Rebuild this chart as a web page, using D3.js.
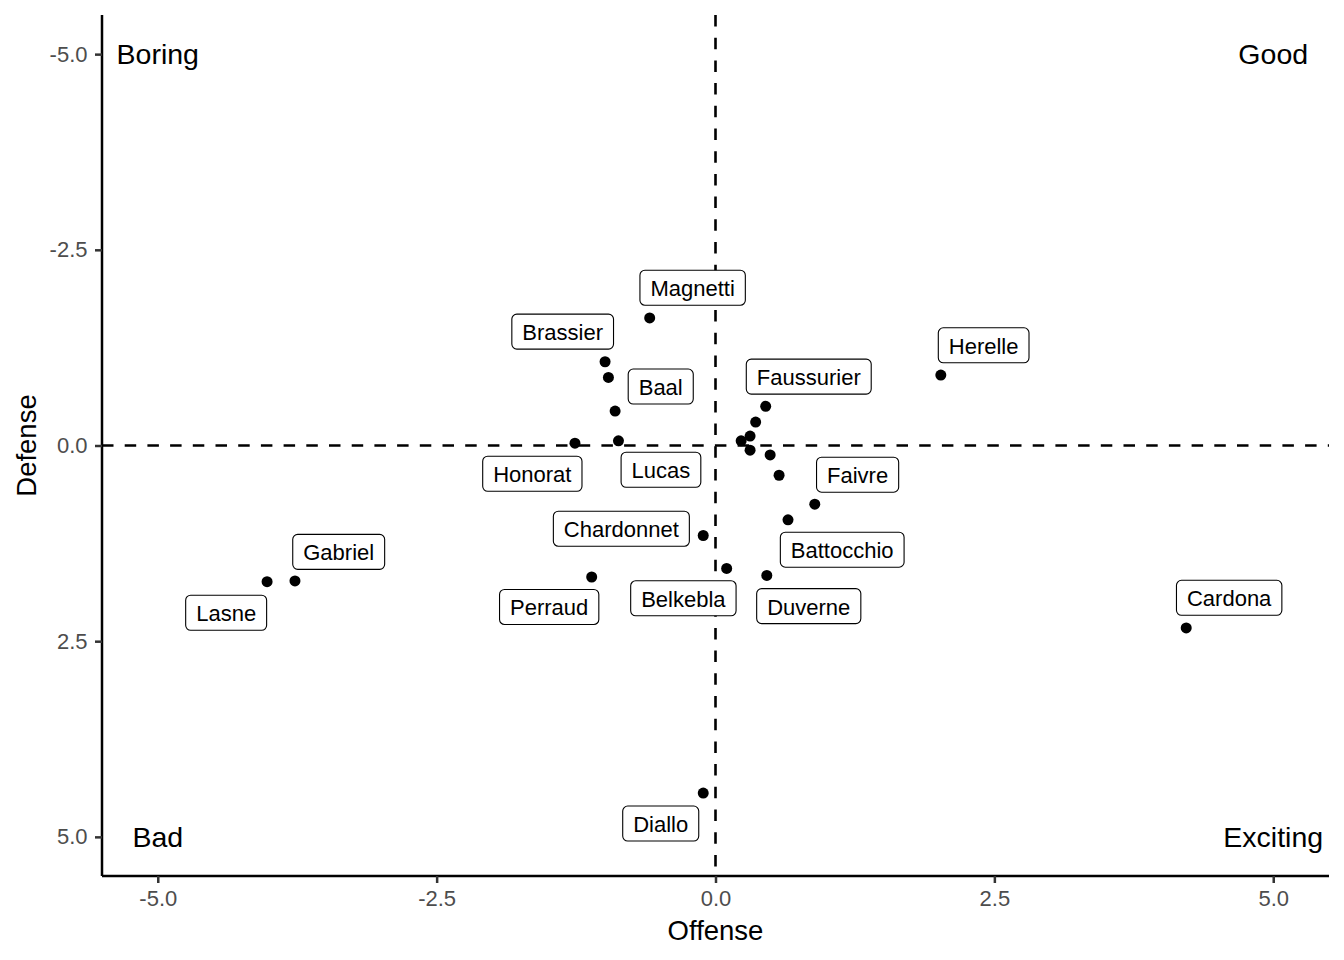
<!DOCTYPE html>
<html>
<head>
<meta charset="utf-8">
<script src="https://cdn.jsdelivr.net/npm/d3@7"></script>
<style>
  html, body { margin: 0; padding: 0; background: #fff; }
  svg { display: block; font-family: "Liberation Sans", Arial, Helvetica, sans-serif; }
</style>
</head>
<body>
<svg id="chart" width="1344" height="960"></svg>
<script>
// ---- data ----
const players = ["Magnetti","Brassier","","Baal","Lucas","Honorat","Faussurier","","","","","","","Faivre","Battocchio","Herelle","Chardonnet","Belkebla","Duverne","Perraud","Lasne","Gabriel","Cardona","Diallo"];
const offense = [-0.59,-0.99,-0.96,-0.90,-0.87,-1.26,0.45,0.36,0.31,0.23,0.31,0.49,0.57,0.89,0.65,2.02,-0.11,0.10,0.46,-1.11,-4.02,-3.77,4.22,-0.11];
const defense = [-1.63,-1.07,-0.87,-0.44,-0.06,-0.03,-0.50,-0.30,-0.12,-0.06,0.06,0.12,0.38,0.75,0.95,-0.90,1.15,1.57,1.66,1.68,1.74,1.73,2.33,4.44];

// label positions (ggrepel result, data units)
const labelNames = ["Magnetti","Brassier","Baal","Honorat","Lucas","Faussurier","Faivre","Chardonnet","Battocchio","Perraud","Belkebla","Duverne","Gabriel","Lasne","Herelle","Cardona","Diallo"];
const labelOffense = [-0.205,-1.370,-0.491,-1.642,-0.489,0.836,1.274,-0.844,1.136,-1.491,-0.288,0.836,-3.378,-4.387,2.404,4.605,-0.491];
const labelDefense = [-2.016,-1.455,-0.753,0.361,0.310,-0.880,0.373,1.063,1.331,2.063,1.952,2.052,1.359,2.137,-1.280,1.946,4.830];

const quadrantText = ["Boring","Good","Bad","Exciting"];
const quadrantX = [-5, 5, -5, 5];
const quadrantY = [-5, -5, 5, 5];

const xTicks = [-5, -2.5, 0, 2.5, 5];
const yTicks = [-5, -2.5, 0, 2.5, 5];
const domain = [-5.5, 5.5];

// ---- layout ----
const svg = d3.select("#chart");
const pLeft = 102, pRight = 1329, pTop = 15, pBottom = 876;
const x = d3.scaleLinear().domain(domain).range([pLeft, pRight]);
const y = d3.scaleLinear().domain(domain).range([pTop, pBottom]);
const fmt = v => d3.format(".1f")(v).replace("\u2212", "-");

// reference lines
const g = svg.append("g");
g.append("line")
  .attr("x1", x(0)).attr("x2", x(0)).attr("y1", pTop).attr("y2", pBottom)
  .attr("stroke", "#000").attr("stroke-width", 2.6).attr("stroke-dasharray", "11.5,11.2");
g.append("line")
  .attr("x1", pLeft).attr("x2", pRight).attr("y1", y(0)).attr("y2", y(0))
  .attr("stroke", "#000").attr("stroke-width", 2.6).attr("stroke-dasharray", "11.5,11.2");

// axes
const xAxis = svg.append("g").attr("transform", `translate(0,${pBottom})`)
  .call(d3.axisBottom(x).tickValues(xTicks).tickFormat(fmt).tickSize(7).tickPadding(7.5));
const yAxis = svg.append("g").attr("transform", `translate(${pLeft},0)`)
  .call(d3.axisLeft(y).tickValues(yTicks).tickFormat(fmt).tickSize(7).tickPadding(7.5));
[xAxis, yAxis].forEach(a => {
  a.select(".domain").attr("stroke", "#000").attr("stroke-width", 2.5);
  a.selectAll(".tick line").attr("stroke", "#333").attr("stroke-width", 2.5);
  a.selectAll(".tick text").attr("fill", "#4d4d4d").style("font-size", "22px")
    .style("font-family", "Liberation Sans, Arial, sans-serif");
});
xAxis.select(".domain").attr("d", `M${pLeft},0H${pRight}`);
yAxis.select(".domain").attr("d", `M0,${pTop}V${pBottom}`);

// axis titles
svg.append("text").attr("x", x(0)).attr("y", 940).attr("text-anchor", "middle")
  .style("font-size", "27.5px").text("Offense");
svg.append("text").attr("transform", `translate(35.5,${y(0)}) rotate(-90)`).attr("text-anchor", "middle")
  .style("font-size", "27.5px").text("Defense");

// quadrant labels
svg.append("g").selectAll("text").data(quadrantText).join("text")
  .attr("x", (d, i) => x(quadrantX[i]))
  .attr("y", (d, i) => y(quadrantY[i]) + 10)
  .attr("text-anchor", "middle")
  .style("font-size", "28.5px")
  .text(d => d);

// points
svg.append("g").selectAll("circle").data(offense).join("circle")
  .attr("cx", (d) => x(d))
  .attr("cy", (d, i) => y(defense[i]))
  .attr("r", 5.5)
  .attr("fill", "#000");

// labels
const lg = svg.append("g");
labelNames.forEach((name, i) => {
  const cx = x(labelOffense[i]), cy = y(labelDefense[i]);
  const grp = lg.append("g");
  const t = grp.append("text").attr("x", cx).attr("y", cy + 8.5)
    .attr("text-anchor", "middle").style("font-size", "22px").attr("fill", "#000").text(name);
  const w = t.node().getComputedTextLength() + 21;
  grp.insert("rect", "text")
    .attr("x", cx - w / 2).attr("y", cy - 17.5)
    .attr("width", w).attr("height", 35)
    .attr("rx", 5).attr("ry", 5)
    .attr("fill", "#fff").attr("stroke", "#000").attr("stroke-width", 1.1);
});
</script>
</body>
</html>
